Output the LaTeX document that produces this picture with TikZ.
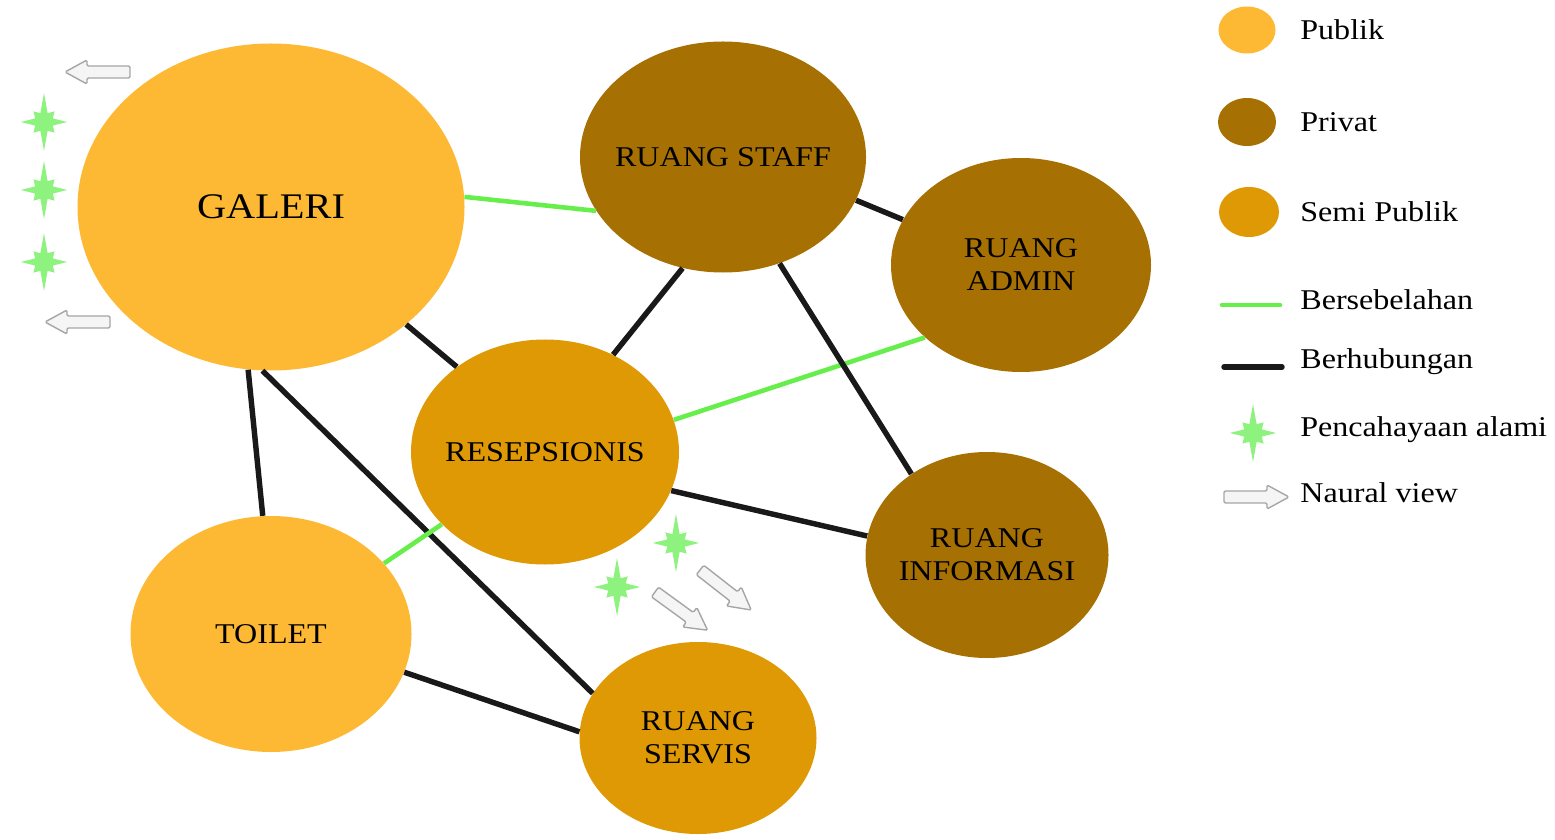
\documentclass[tikz,border=0pt]{standalone}
\usepackage{fontspec}
\setmainfont[FakeStretch=1.12]{Liberation Serif}
\usetikzlibrary{shapes.geometric}

\definecolor{publik}{HTML}{FDB933}
\definecolor{privat}{HTML}{A67102}
\definecolor{semipublik}{HTML}{DE9905}
\definecolor{adjgreen}{HTML}{66EE4A}
\definecolor{sungreen}{HTML}{8EF27E}

\tikzset{
  room/.style={ellipse, inner xsep=-30pt, inner ysep=0pt, align=center, font=\fontsize{16.3}{18.8}\selectfont},
  adjacent/.style={adjgreen, line width=2.6pt},
  linked/.style={black!90, line width=3.1pt},
  legendtext/.style={anchor=west, inner sep=0pt, font=\fontsize{16.3}{18.8}\selectfont},
  sunlight/.pic={
    \fill[sungreen] (0:23) -- (22.5:9.5) -- (45:15) -- (67.5:9.5) -- (90:29) -- (112.5:9.5)
      -- (135:15) -- (157.5:9.5) -- (180:23) -- (202.5:9.5) -- (225:15) -- (247.5:9.5)
      -- (270:29) -- (292.5:9.5) -- (315:15) -- (337.5:9.5) -- cycle;
  },
  viewarrow/.pic={
    \filldraw[draw=gray!70, fill=gray!8, line width=0.8pt, rounded corners=0.8pt]
      (0,-6) -- (43,-6) -- (43,-12) -- (65,0) -- (43,12) -- (43,6) -- (0,6) -- cycle;
  }
}

\begin{document}
\begin{tikzpicture}[x=0.2mm,y=-0.2mm]
  \useasboundingbox (0,0) rectangle (1555,840);

  % rooms
  \node[room, fill=publik, minimum width=77.4mm, minimum height=65.4mm,
        font=\fontsize{20.5}{23}\selectfont] (galeri) at (271,207) {GALERI};
  \node[room, fill=privat, minimum width=57.2mm, minimum height=46.2mm] (staff) at (723,157) {RUANG STAFF};
  \node[room, fill=privat, minimum width=52mm, minimum height=42.8mm] (admin) at (1021,265) {RUANG\\ADMIN};
  \node[room, fill=semipublik, minimum width=53.6mm, minimum height=45mm] (resep) at (545,452) {RESEPSIONIS};
  \node[room, fill=privat, minimum width=48.6mm, minimum height=41.2mm] (info) at (987,555) {RUANG\\INFORMASI};
  \node[room, fill=publik, minimum width=56.2mm, minimum height=47.2mm] (toilet) at (271,634) {TOILET};
  \node[room, fill=semipublik, minimum width=47.4mm, minimum height=38.4mm] (servis) at (698,738) {RUANG\\SERVIS};

  % relations
  \draw[adjacent] (galeri.3) -- (staff.-157);
  \draw[linked] (staff.-18) -- (admin.159);
  \draw[linked] (galeri.-41) -- (resep.136);
  \draw[linked] (staff.-110) -- (resep.55);
  \draw[adjacent] (resep.14) -- (admin.-143);
  \draw[linked] (staff.-62) -- (info.133);
  \draw[linked] (resep.-17) -- (info.171);
  \draw[linked] (galeri.-98) -- (toilet.94);
  \draw[linked] (galeri.-93) -- (servis.157);
  \draw[adjacent] (resep.-145) -- (toilet.32);
  \draw[linked] (toilet.-16) -- (servis.177);

  % natural light and views
  \pic at (44,122) {sunlight};
  \pic at (44,190) {sunlight};
  \pic at (44,262) {sunlight};
  \pic at (676,543) {sunlight};
  \pic at (617,587) {sunlight};
  \pic[rotate=180] at (130,72) {viewarrow};
  \pic[rotate=180] at (110,322) {viewarrow};
  \pic[rotate=-36] at (655,592) {viewarrow};
  \pic[rotate=-38] at (700,570) {viewarrow};

  % legend
  \node[ellipse, fill=publik, minimum width=11.4mm, minimum height=9.4mm] (keypublik) at (1247,30) {};
  \node[legendtext] (txtpublik) at (1300,30) {Publik};
  \node[ellipse, fill=privat, minimum width=11.6mm, minimum height=9.6mm] (keyprivat) at (1247,122) {};
  \node[legendtext] (txtprivat) at (1300,122) {Privat};
  \node[ellipse, fill=semipublik, minimum width=12mm, minimum height=10mm] (keysemi) at (1249,212) {};
  \node[legendtext] (txtsemi) at (1300,212) {Semi Publik};
  \coordinate (adjstart) at (1222,305);
  \coordinate (adjend) at (1280,305);
  \draw[adjacent, line cap=round] (adjstart) -- (adjend);
  \node[legendtext] (txtadj) at (1300,300) {Bersebelahan};
  \coordinate (linkstart) at (1224,367);
  \coordinate (linkend) at (1282,367);
  \draw[linked, line cap=round] (linkstart) -- (linkend);
  \node[legendtext] (txtlink) at (1300,362) {Berhubungan};
  \pic at (1253,433) {sunlight};
  \node[legendtext] (txtsun) at (1300,430) {Pencahayaan alami};
  \pic at (1224,497) {viewarrow};
  \node[legendtext] (txtview) at (1300,493) {Naural view};
\end{tikzpicture}
\end{document}
